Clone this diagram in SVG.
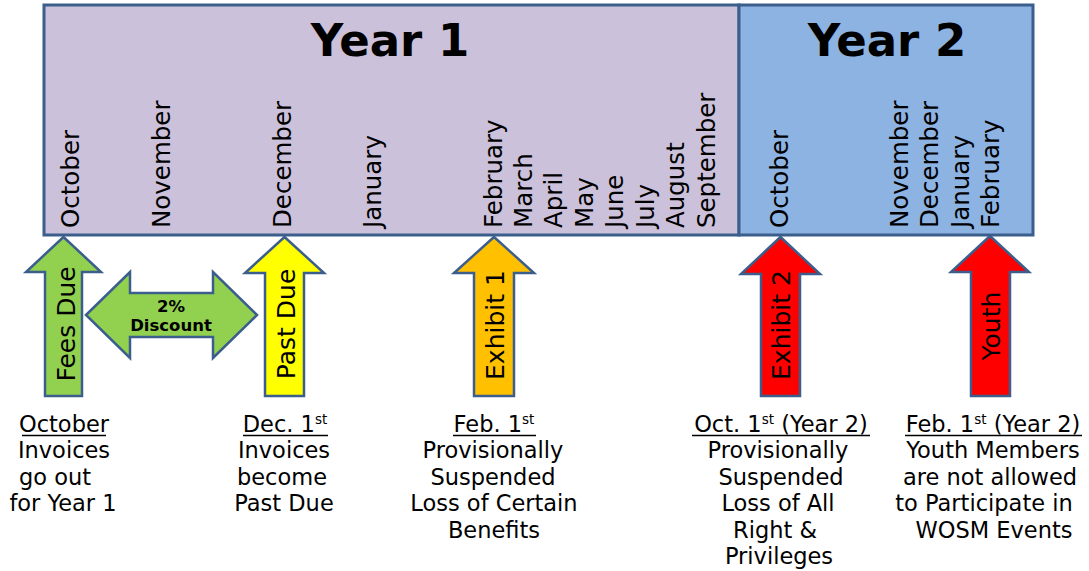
<svg xmlns="http://www.w3.org/2000/svg" width="1089" height="571" viewBox="0 0 1089 571">
<style>
text{font-family:"DejaVu Sans","Liberation Sans",sans-serif;fill:#000}
.yr{font-size:45px;font-weight:bold;text-anchor:middle}
.mo{font-size:24.5px}
.al{font-size:25px;text-anchor:middle}
.ds{font-size:16.5px;font-weight:bold;text-anchor:middle}
.desc{font-size:22.5px;text-anchor:middle}
.sup{font-size:13.5px}
.ul{stroke:#000;stroke-width:1.5}
.arrow{stroke:#3B5E8C;stroke-width:2.5;stroke-linejoin:miter}
.bar{stroke:#3B5E8C;stroke-width:3}
</style>
<g id="year1">
<rect class="bar" x="44" y="5" width="695" height="230" fill="#CCC1DA"/>
<text class="yr" x="390" y="56">Year 1</text>
</g>
<g id="year2">
<rect class="bar" x="739" y="5" width="294" height="230" fill="#8DB3E2"/>
<text class="yr" x="887" y="56">Year 2</text>
</g>
<g id="months">
<text class="mo" transform="translate(79,228) rotate(-90)">October</text>
<text class="mo" transform="translate(170,228) rotate(-90)">November</text>
<text class="mo" transform="translate(291,228) rotate(-90)">December</text>
<text class="mo" transform="translate(381,228) rotate(-90)">January</text>
<text class="mo" transform="translate(502,228) rotate(-90)">February</text>
<text class="mo" transform="translate(532,228) rotate(-90)">March</text>
<text class="mo" transform="translate(562,228) rotate(-90)">April</text>
<text class="mo" transform="translate(593,228) rotate(-90)">May</text>
<text class="mo" transform="translate(623,228) rotate(-90)">June</text>
<text class="mo" transform="translate(654,228) rotate(-90)">July</text>
<text class="mo" transform="translate(684,228) rotate(-90)">August</text>
<text class="mo" transform="translate(715,228) rotate(-90)">September</text>
<text class="mo" transform="translate(788,228) rotate(-90)">October</text>
<text class="mo" transform="translate(908,228) rotate(-90)">November</text>
<text class="mo" transform="translate(938,228) rotate(-90)">December</text>
<text class="mo" transform="translate(969,228) rotate(-90)">January</text>
<text class="mo" transform="translate(999,228) rotate(-90)">February</text>
</g>
<g id="connectors">
<g id="fees-due">
<path class="arrow" fill="#92D050" d="M63.5,237 L26,272 L45,272 L45,396 L82,396 L82,272 L101,272 Z"/>
<text class="al" transform="translate(75,324) rotate(-90)">Fees Due</text>
</g>
<g id="discount">
<path class="arrow" fill="#92D050" d="M86,315 L130,272 L130,293 L213,293 L213,272 L257,315 L213,358 L213,337 L130,337 L130,358 Z"/>
<text class="ds" x="171" y="312">2%</text>
<text class="ds" x="171" y="331">Discount</text>
</g>
<g id="past-due">
<path class="arrow" fill="#FFFF00" d="M284.5,237 L245,273 L265,273 L265,396 L304,396 L304,273 L324,273 Z"/>
<text class="al" transform="translate(295,324) rotate(-90)">Past Due</text>
</g>
<g id="exhibit-1">
<path class="arrow" fill="#FFC000" d="M494,237 L454,273 L474,273 L474,396 L514,396 L514,273 L534,273 Z"/>
<text class="al" transform="translate(504,325) rotate(-90)">Exhibit 1</text>
</g>
<g id="exhibit-2">
<path class="arrow" fill="#FF0000" d="M780.5,237 L741,274 L761,274 L761,396 L800,396 L800,274 L820,274 Z"/>
<text class="al" transform="translate(790,325) rotate(-90)">Exhibit 2</text>
</g>
<g id="youth">
<path class="arrow" fill="#FF0000" d="M990,236 L951,272 L971,272 L971,396 L1010,396 L1010,272 L1029,272 Z"/>
<text class="al" transform="translate(1000,326) rotate(-90)">Youth</text>
</g>
</g>
<g id="note-october">
<text class="desc" x="64" y="432">October</text>
<line class="ul" x1="22" y1="435.5" x2="106" y2="435.5"/>
<text class="desc" x="64" y="458">Invoices</text>
<text class="desc" x="55" y="485">go out</text>
<text class="desc" x="63" y="511">for Year 1</text>
</g>
<g id="note-dec">
<text class="desc" x="285" y="432">Dec. 1<tspan class="sup" dy="-8">st</tspan></text>
<line class="ul" x1="243" y1="435.5" x2="328" y2="435.5"/>
<text class="desc" x="284" y="458">Invoices</text>
<text class="desc" x="282" y="485">become</text>
<text class="desc" x="284" y="511">Past Due</text>
</g>
<g id="note-feb">
<text class="desc" x="494" y="432">Feb. 1<tspan class="sup" dy="-8">st</tspan></text>
<line class="ul" x1="453" y1="435.5" x2="536" y2="435.5"/>
<text class="desc" x="493" y="458">Provisionally</text>
<text class="desc" x="493" y="485">Suspended</text>
<text class="desc" x="494" y="511">Loss of Certain</text>
<text class="desc" x="494" y="538">Benefits</text>
</g>
<g id="note-oct2">
<text class="desc" x="781" y="432">Oct. 1<tspan class="sup" dy="-8">st</tspan><tspan dy="8"> (Year 2)</tspan></text>
<line class="ul" x1="692" y1="435.5" x2="870" y2="435.5"/>
<text class="desc" x="778" y="458">Provisionally</text>
<text class="desc" x="781" y="485">Suspended</text>
<text class="desc" x="778" y="511">Loss of All</text>
<text class="desc" x="775" y="538">Right &amp;</text>
<text class="desc" x="779" y="564">Privileges</text>
</g>
<g id="note-feb2">
<text class="desc" x="993" y="432">Feb. 1<tspan class="sup" dy="-8">st</tspan><tspan dy="8"> (Year 2)</tspan></text>
<line class="ul" x1="905" y1="435.5" x2="1082" y2="435.5"/>
<text class="desc" x="993" y="458">Youth Members</text>
<text class="desc" x="990" y="485">are not allowed</text>
<text class="desc" x="984" y="511">to Participate in</text>
<text class="desc" x="994" y="538">WOSM Events</text>
</g>
</svg>
